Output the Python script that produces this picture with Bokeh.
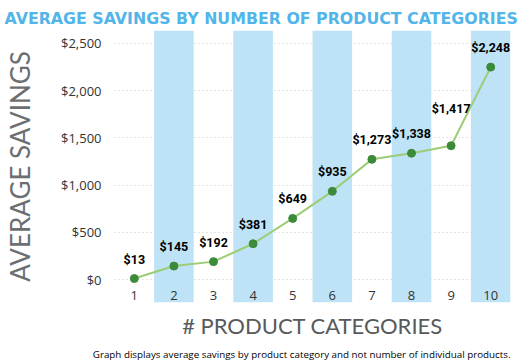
from bokeh.plotting import figure
from bokeh.models import Range1d, Title, FixedTicker
from bokeh.core.properties import value
from bokeh.embed import file_html
from bokeh.resources import INLINE

# ---- data ----
categories = [1, 2, 3, 4, 5, 6, 7, 8, 9, 10]
category_labels = ["1", "2", "3", "4", "5", "6", "7", "8", "9", "10"]
savings = [13, 145, 192, 381, 649, 935, 1273, 1338, 1417, 2248]
savings_labels = ["$13", "$145", "$192", "$381", "$649", "$935",
                  "$1,273", "$1,338", "$1,417", "$2,248"]
band_categories = [2, 4, 6, 8, 10]
y_ticks = [0, 500, 1000, 1500, 2000, 2500]
y_tick_labels = ["$0", "$500", "$1,000", "$1,500", "$2,000", "$2,500"]

TITLE = "AVERAGE SAVINGS BY NUMBER OF PRODUCT CATEGORIES"
Y_TITLE = "AVERAGE SAVINGS"
X_TITLE = "# PRODUCT CATEGORIES"
NOTE = "Graph displays average savings by product category and not number of individual products."

Y0, Y1 = -240, 2635

p = figure(width=519, height=361, output_backend="svg", toolbar_location=None,
           x_range=Range1d(0.5, 10.5), y_range=Range1d(Y0, Y1),
           x_axis_location=None, min_border_left=112, min_border_right=9,
           min_border_top=30, min_border_bottom=0)
p.outline_line_color = None
p.background_fill_color = "white"
p.border_fill_color = "white"

# title (spanning the whole figure width)
p.title.text = TITLE
p.title.align = "left"
p.title.vertical_align = "top"
p.title.offset = -110
p.title.text_font = "DejaVu Sans"
p.title.text_font_style = "bold"
p.title.text_font_size = "15.8px"
p.title.text_color = "#52b5e9"
p.title.standoff = 2

# y axis
yax = p.yaxis[0]
yax.ticker = FixedTicker(ticks=y_ticks)
yax.major_label_overrides = {t: l for t, l in zip(y_ticks, y_tick_labels)}
yax.axis_line_color = None
yax.major_tick_line_color = None
yax.minor_tick_line_color = None
yax.major_label_standoff = 7
yax.major_label_text_font = "Open Sans"
yax.major_label_text_font_size = "13px"
yax.major_label_text_color = "#333333"
yax.axis_label = Y_TITLE
yax.axis_label_text_font = "Lato"
yax.axis_label_text_font_style = "normal"
yax.axis_label_text_font_size = "26px"
yax.axis_label_text_color = "#6d6e71"
yax.axis_label_standoff = 22

p.ygrid.ticker = FixedTicker(ticks=y_ticks)
p.ygrid.grid_line_color = "#c8c8c8"
p.ygrid.grid_line_dash = "1 3"
p.xgrid.grid_line_color = None

# bands
p.vbar(x=band_categories, width=1, bottom=Y0, top=Y1,
       fill_color="#bee3f6", line_color=None)

# x tick labels (inside the band area, like the reference)
p.text(x=categories, y=[Y0] * len(categories), text=category_labels,
       text_align="center", text_baseline="bottom", y_offset=-3,
       text_font=value("Open Sans"), text_font_size="13px", text_color="#333333")

# line and points
p.line(categories, savings, line_color="#9ccc74", line_width=2)
p.scatter(categories, savings, size=8, fill_color="#3b8b3b", line_color="#3b8b3b")

# value labels: higher when the next segment climbs steeply
offsets = []
for i, v in enumerate(savings):
    nxt = savings[i + 1] if i + 1 < len(savings) else v
    offsets.append(-30 if nxt - v > 500 else -12)
p.text(x=categories, y=savings, text=savings_labels, y_offset=offsets,
       text_align="center", text_baseline="bottom",
       text_font=value("Roboto"),
       text_font_style="bold", text_font_size="12.5px", text_color="black")

# below titles
p.add_layout(Title(text=X_TITLE, align="center", text_font="Lato",
                   text_font_style="normal", text_font_size="22px",
                   text_color="#58595b", standoff=14), "below")
p.add_layout(Title(text=NOTE, align="right", text_font="Open Sans",
                   text_font_style="normal", text_font_size="9.8px",
                   text_color="black", standoff=1, offset=0), "below")

open("out.html", "w").write(file_html(p, INLINE))
